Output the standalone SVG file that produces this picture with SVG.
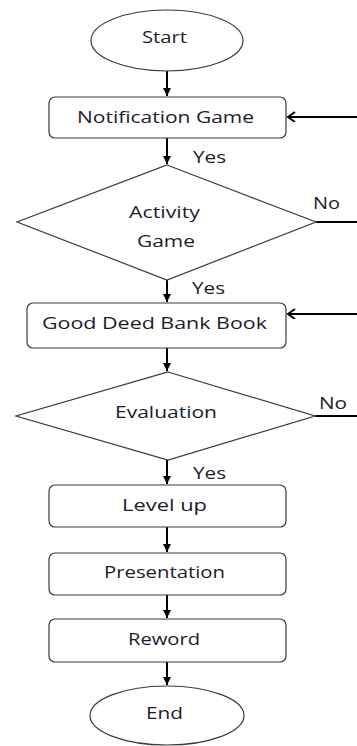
<svg xmlns="http://www.w3.org/2000/svg" width="357" height="746" viewBox="0 0 357 746">
<style>
.node{fill:#fff;stroke:#3a3a3a;stroke-width:1.2}
.t{font-family:"Open Sans","Noto Sans",sans-serif;font-size:16px;fill:#1c1c2c;text-anchor:middle}
.l{font-family:"Open Sans","Noto Sans",sans-serif;font-size:16px;fill:#1c1c2c}
.c{fill:none;stroke:#000;stroke-width:2}
</style>
<defs>
<marker id="ah" markerWidth="10" markerHeight="10" refX="8" refY="4" orient="auto" markerUnits="userSpaceOnUse">
<path d="M0,0 L8,4 L0,8 Z" fill="#000"/>
</marker>
<marker id="av" markerWidth="12" markerHeight="12" refX="8" refY="5" orient="auto" markerUnits="userSpaceOnUse">
<path d="M1,0 L8,5 L1,10" fill="none" stroke="#000" stroke-width="2"/>
</marker>
</defs>
<rect width="357" height="746" fill="#fff"/>
<g id="connectors">
<line class="c" x1="167" y1="71" x2="167" y2="96" marker-end="url(#ah)"/>
<line class="c" x1="167" y1="138" x2="167" y2="164" marker-end="url(#ah)"/>
<line class="c" x1="167" y1="280" x2="167" y2="302" marker-end="url(#ah)"/>
<line class="c" x1="167" y1="348" x2="167" y2="371" marker-end="url(#ah)"/>
<line class="c" x1="167" y1="460" x2="167" y2="484" marker-end="url(#ah)"/>
<line class="c" x1="167" y1="527" x2="167" y2="552" marker-end="url(#ah)"/>
<line class="c" x1="167" y1="595" x2="167" y2="618" marker-end="url(#ah)"/>
<line class="c" x1="167" y1="662" x2="167" y2="685" marker-end="url(#ah)"/>
<line class="c" x1="357" y1="117" x2="288" y2="117" marker-end="url(#av)"/>
<line class="c" x1="357" y1="314" x2="288" y2="314" marker-end="url(#av)"/>
<line class="c" x1="316" y1="222" x2="357" y2="222"/>
<line class="c" x1="315" y1="416" x2="357" y2="416"/>
<text class="l" x="193" y="163" textLength="33" lengthAdjust="spacingAndGlyphs">Yes</text>
<text class="l" x="313" y="209" textLength="27" lengthAdjust="spacingAndGlyphs">No</text>
<text class="l" x="192" y="294" textLength="33" lengthAdjust="spacingAndGlyphs">Yes</text>
<text class="l" x="319" y="409" textLength="28" lengthAdjust="spacingAndGlyphs">No</text>
<text class="l" x="193" y="479" textLength="33" lengthAdjust="spacingAndGlyphs">Yes</text>
</g>
<g id="start">
<ellipse class="node" cx="167" cy="40.5" rx="76" ry="30.5"/>
<text class="t" x="164.5" y="43" textLength="45" lengthAdjust="spacingAndGlyphs">Start</text>
</g>
<g id="notification">
<rect class="node" x="49" y="97" width="237" height="41" rx="6"/>
<text class="t" x="165.5" y="123" textLength="177" lengthAdjust="spacingAndGlyphs">Notification Game</text>
</g>
<g id="activity">
<polygon class="node" points="167,165 316,222 167,280 17,222"/>
<text class="t" x="164.5" y="218" textLength="71" lengthAdjust="spacingAndGlyphs">Activity</text>
<text class="t" x="166" y="247" textLength="58" lengthAdjust="spacingAndGlyphs">Game</text>
</g>
<g id="bankbook">
<rect class="node" x="27" y="303" width="259" height="45" rx="6"/>
<text class="t" x="154.5" y="329" textLength="225" lengthAdjust="spacingAndGlyphs">Good Deed Bank Book</text>
</g>
<g id="evaluation">
<polygon class="node" points="168,372 315,416 168,460 16,416"/>
<text class="t" x="166" y="418" textLength="102" lengthAdjust="spacingAndGlyphs">Evaluation</text>
</g>
<g id="levelup">
<rect class="node" x="49" y="485" width="237" height="42" rx="6"/>
<text class="t" x="164.5" y="511" textLength="85" lengthAdjust="spacingAndGlyphs">Level up</text>
</g>
<g id="presentation">
<rect class="node" x="49" y="553" width="237" height="42" rx="6"/>
<text class="t" x="164.5" y="578" textLength="121" lengthAdjust="spacingAndGlyphs">Presentation</text>
</g>
<g id="reword">
<rect class="node" x="49" y="619" width="237" height="43" rx="6"/>
<text class="t" x="164" y="645" textLength="72" lengthAdjust="spacingAndGlyphs">Reword</text>
</g>
<g id="end">
<ellipse class="node" cx="167" cy="715.5" rx="77" ry="29.5"/>
<text class="t" x="164.5" y="719" textLength="37" lengthAdjust="spacingAndGlyphs">End</text>
</g>
</svg>
